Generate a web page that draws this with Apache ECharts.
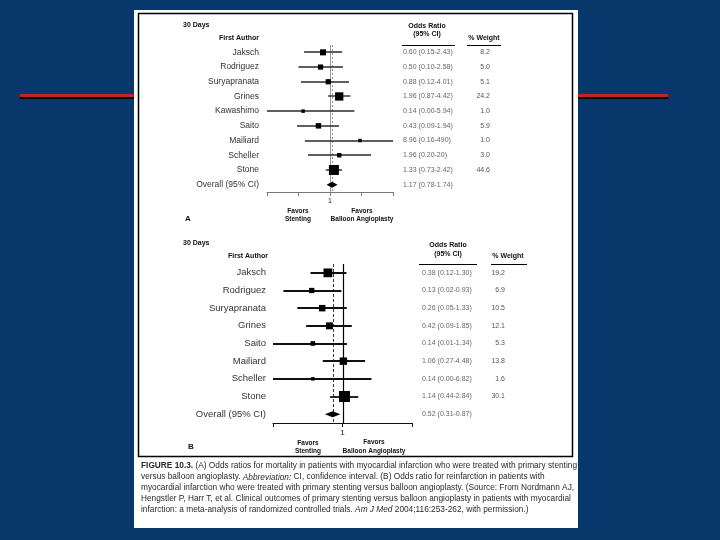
<!DOCTYPE html>
<html><head><meta charset="utf-8">
<script src="https://cdn.jsdelivr.net/npm/echarts@6/dist/echarts.min.js"></script>
<style>html,body{margin:0;padding:0;background:#08376b}#c{width:720px;height:540px}</style>
</head><body><div id="c"></div>
<script>
// ---------- Panel A: mortality at 30 days ----------
const authorsA = ['Jaksch','Rodriguez','Suryapranata','Grines','Kawashimo','Saito','Mailiard','Scheller','Stone','Overall (95% CI)'];
const orA      = [0.60, 0.50, 0.88, 1.96, 0.14, 0.43, 8.96, 1.96, 1.33, 1.17];
const loA      = [0.15, 0.10, 0.12, 0.87, 0.00, 0.09, 0.16, 0.20, 0.73, 0.78];
const hiA      = [2.43, 2.58, 4.01, 4.42, 5.94, 1.94, 490, 20, 2.42, 1.74];
const weightA  = [8.2, 5.0, 5.1, 24.2, 1.0, 5.9, 1.0, 3.0, 44.6, null];
const tickValuesA  = [0.01, 0.1, 1, 10, 100];
const labelValuesA = [1];

// ---------- Panel B: reinfarction at 30 days ----------
const authorsB = ['Jaksch','Rodriguez','Suryapranata','Grines','Saito','Mailiard','Scheller','Stone','Overall (95% CI)'];
const orB      = [0.38, 0.13, 0.26, 0.42, 0.14, 1.06, 0.14, 1.14, 0.52];
const loB      = [0.12, 0.02, 0.05, 0.09, 0.01, 0.27, 0.00, 0.44, 0.31];
const hiB      = [1.30, 0.93, 1.33, 1.85, 1.34, 4.48, 6.82, 2.84, 0.87];
const weightB  = [19.2, 6.9, 10.5, 12.1, 5.3, 13.8, 1.6, 30.1, null];
const tickValuesB  = [0.01, 1, 100];
const labelValuesB = [1];

const captionLines = [
  [['b','FIGURE 10.3.'],['n',' (A) Odds ratios for mortality in patients with myocardial infarction who were treated with primary stenting']],
  [['n','versus balloon angioplasty. '],['i','Abbreviation:'],['n',' CI, confidence interval. (B) Odds ratio for reinfarction in patients with']],
  [['n','myocardial infarction who were treated with primary stenting versus balloon angioplasty. (Source: From Nordmann AJ,']],
  [['n','Hengstler P, Harr T, et al. Clinical outcomes of primary stenting versus balloon angioplasty in patients with myocardial']],
  [['n','infarction: a meta-analysis of randomized controlled trials. '],['i','Am J Med'],['n',' 2004;116:253-262, with permission.)']]
];

// ---------- helpers ----------
const FONT = '"Liberation Sans", Arial, sans-serif';
const fmt = v => v >= 10 ? String(Math.round(v)) : v.toFixed(2);
const orText = (o, l, h) => o.map((v, i) => fmt(v) + ' (' + fmt(l[i]) + '-' + fmt(h[i]) + ')');
const wText = w => w.map(v => v == null ? '' : v.toFixed(1));
const orTextA = orText(orA, loA, hiA), orTextB = orText(orB, loB, hiB);
const wTextA = wText(weightA), wTextB = wText(weightB);

function forestItem(sizeFn, color, lw, xMin, xMax) {
  return function (params, api) {
    const y = api.value(0);
    const o = api.value(1);
    const l = Math.max(api.value(2), xMin), h = Math.min(api.value(3), xMax);
    const w = api.value(4);
    const pl = api.coord([l, y]), ph = api.coord([h, y]), pc = api.coord([o, y]);
    const s = sizeFn(w);
    return { type: 'group', children: [
      { type: 'line', shape: { x1: pl[0], y1: Math.round(pl[1]), x2: ph[0], y2: Math.round(ph[1]) }, style: { stroke: color, lineWidth: lw } },
      { type: 'rect', shape: { x: pc[0] - s / 2, y: pc[1] - s / 2, width: s, height: s }, style: { fill: '#000' } }
    ]};
  };
}
function diamondItem(params, api) {
  const y = api.value(0);
  const a = api.coord([api.value(2), y]), b = api.coord([api.value(1), y]), c = api.coord([api.value(3), y]);
  const h = 3;
  return { type: 'polygon', shape: { points: [[a[0], a[1]], [b[0], b[1] - h], [c[0], c[1]], [b[0], b[1] + h]] }, style: { fill: '#000' } };
}
function vlineItem(color, dash, lw) {
  return function (params, api) {
    const x = Math.round(api.coord([api.value(0), 0])[0]) + 0.5;
    const cs = params.coordSys;
    return { type: 'line', shape: { x1: x, y1: cs.y, x2: x, y2: cs.y + cs.height }, style: { stroke: color, lineWidth: lw, lineDash: dash } };
  };
}
function rows(authors, o, l, h, w) {
  return authors.slice(0, -1).map((a, i) => [i, o[i], l[i], h[i], w[i]]);
}
const lastA = authorsA.length - 1, lastB = authorsB.length - 1;
const sizeA = w => Math.max(3.5, 3.2 * Math.pow(w, 0.3));
const sizeB = w => Math.max(3.5, 2 * Math.sqrt(w));

// ---------- caption measurement ----------
const mctx = document.createElement('canvas').getContext('2d');
const CAP_SIZE = 9;
const capFont = t => (t === 'b' ? 'bold ' : t === 'i' ? 'italic ' : '') + CAP_SIZE + 'px ' + FONT;
function measureLine(segs) { return segs.reduce((s, [t, txt]) => { mctx.font = capFont(t); return s + mctx.measureText(txt).width; }, 0); }
const capScale = 436 / measureLine(captionLines[0]);
const capY = [466, 477, 488, 499, 509.5];
const captionGraphics = captionLines.map((segs, i) => ({
  type: 'text', x: 141, y: capY[i], scaleX: capScale, scaleY: 1,
  style: {
    text: segs.map(([t, txt]) => '{' + t + '|' + txt.replace(/[{}|]/g, '') + '}').join(''),
    rich: {
      n: { fontSize: CAP_SIZE, fontFamily: FONT, fill: '#2a2a2a' },
      b: { fontSize: CAP_SIZE, fontFamily: FONT, fill: '#2a2a2a', fontWeight: 'bold' },
      i: { fontSize: CAP_SIZE, fontFamily: FONT, fill: '#2a2a2a', fontStyle: 'italic' }
    },
    verticalAlign: 'middle', align: 'left'
  }
}));

function txt(x, y, text, opt) {
  return { type: 'text', x: x, y: y, style: Object.assign({ text: text, fontFamily: FONT, fontSize: 7, fill: '#111', verticalAlign: 'middle', align: 'left' }, opt || {}) };
}
function hline(x1, x2, y, color, lw) {
  return { type: 'line', shape: { x1: x1, y1: y, x2: x2, y2: y }, style: { stroke: color || '#000', lineWidth: lw || 1 } };
}
const boldS = (align, size) => ({ fontWeight: 'bold', align: align || 'left', fontSize: size || 7 });

const graphics = [
  // red rules
  { type: 'rect', shape: { x: 20, y: 97, width: 116, height: 2 }, style: { fill: '#000' }, z: -2 },
  { type: 'rect', shape: { x: 20, y: 94, width: 116, height: 3 }, style: { fill: '#c8202a' }, z: -2 },
  { type: 'rect', shape: { x: 577, y: 97, width: 91, height: 2 }, style: { fill: '#000' }, z: -2 },
  { type: 'rect', shape: { x: 577, y: 94, width: 91, height: 3 }, style: { fill: '#c8202a' }, z: -2 },
  // white page + figure frame
  { type: 'rect', shape: { x: 134, y: 10, width: 444, height: 518 }, style: { fill: '#fff' }, z: -1 },
  { type: 'rect', shape: { x: 138.5, y: 13.5, width: 434, height: 443 }, style: { fill: 'none', stroke: '#000', lineWidth: 1.5 }, z: -1 },
  // panel A headers
  txt(183, 25, '30 Days', boldS()),
  txt(259, 38, 'First Author', boldS('right')),
  txt(427, 26, 'Odds Ratio', boldS('center')),
  txt(427, 34.5, '(95% CI)', boldS('center')),
  hline(402, 455, 45.5, '#000', 1),
  txt(484, 38, '% Weight', boldS('center')),
  hline(467, 501, 45.5, '#000', 1),
  txt(298, 211, 'Favors', boldS('center', 6.5)),
  txt(298, 219, 'Stenting', boldS('center', 6.5)),
  txt(362, 211, 'Favors', boldS('center', 6.5)),
  txt(362, 219, 'Balloon Angioplasty', boldS('center', 6.5)),
  txt(185, 219, 'A', boldS('left', 8)),
  // panel B headers
  txt(183, 243, '30 Days', boldS()),
  txt(268, 256, 'First Author', boldS('right')),
  txt(448, 245, 'Odds Ratio', boldS('center')),
  txt(448, 254, '(95% CI)', boldS('center')),
  hline(419, 477, 264.5, '#000', 1),
  txt(508, 256, '% Weight', boldS('center')),
  hline(491, 527, 264.5, '#000', 1),
  txt(308, 443, 'Favors', boldS('center', 6.5)),
  txt(308, 451, 'Stenting', boldS('center', 6.5)),
  txt(374, 442, 'Favors', boldS('center', 6.5)),
  txt(374, 451, 'Balloon Angioplasty', boldS('center', 6.5)),
  txt(188, 447, 'B', boldS('left', 8))
].concat(captionGraphics);

function xAxisCfg(gi, ticks, labels, color, labelSize, margin) {
  return {
    gridIndex: gi, type: 'log', logBase: 10, min: 0.01, max: 100,
    axisLine: { show: true, lineStyle: { color: color, width: 1 } },
    axisTick: { show: true, inside: false, length: 4, customValues: ticks, lineStyle: { color: color } },
    axisLabel: { show: true, customValues: labels, fontSize: labelSize, fontFamily: FONT, color: '#222', margin: margin },
    splitLine: { show: false }, minorTick: { show: false }
  };
}
function yAxesCfg(gi, authors, nameSize, nameMargin, orT, wT, orOff, wOff, valSize) {
  const base = { gridIndex: gi, type: 'category', data: authors, inverse: true,
    axisLine: { show: false }, axisTick: { show: false }, splitLine: { show: false } };
  return [
    Object.assign({}, base, { position: 'left', axisLabel: { margin: nameMargin, fontSize: nameSize, fontFamily: FONT, color: '#333' } }),
    Object.assign({}, base, { position: 'right', offset: orOff, axisLabel: { margin: 0, align: 'left', fontSize: valSize, fontFamily: FONT, color: '#666', formatter: (v, i) => orT[i] } }),
    Object.assign({}, base, { position: 'right', offset: wOff, axisLabel: { margin: 0, align: 'right', fontSize: valSize, fontFamily: FONT, color: '#555', formatter: (v, i) => wT[i] } })
  ];
}

const option = {
  backgroundColor: '#08376b',
  animation: false,
  grid: [
    { left: 267, top: 45, width: 126, height: 147 },
    { left: 273, top: 264, width: 139, height: 159 }
  ],
  xAxis: [
    xAxisCfg(0, tickValuesA, labelValuesA, '#777', 7, 6),
    xAxisCfg(1, tickValuesB, labelValuesB, '#111', 8, 6)
  ],
  yAxis: yAxesCfg(0, authorsA, 8.5, 8, orTextA, wTextA, 10, 97, 7)
    .concat(yAxesCfg(1, authorsB, 9.5, 7, orTextB, wTextB, 10, 93, 7)),
  graphic: { elements: graphics },
  series: [
    { type: 'custom', xAxisIndex: 0, yAxisIndex: 0, renderItem: vlineItem('#999', null, 1), data: [[1]], encode: { x: 0 }, z: 1, silent: true },
    { type: 'custom', xAxisIndex: 0, yAxisIndex: 0, renderItem: vlineItem('#777', [2, 2], 0.8), data: [[orA[lastA]]], encode: { x: 0 }, z: 1, silent: true },
    { type: 'custom', xAxisIndex: 0, yAxisIndex: 0, renderItem: forestItem(sizeA, '#2a2a2a', 1.4, 0.01, 100),
      data: rows(authorsA, orA, loA, hiA, weightA), encode: { x: 1, y: 0 }, z: 2, silent: true },
    { type: 'custom', xAxisIndex: 0, yAxisIndex: 0, renderItem: diamondItem,
      data: [[lastA, orA[lastA], loA[lastA], hiA[lastA]]], encode: { x: 1, y: 0 }, z: 2, silent: true },

    { type: 'custom', xAxisIndex: 1, yAxisIndex: 3, renderItem: vlineItem('#000', null, 1.2), data: [[1]], encode: { x: 0 }, z: 1, silent: true },
    { type: 'custom', xAxisIndex: 1, yAxisIndex: 3, renderItem: vlineItem('#222', [3, 2], 0.9), data: [[orB[lastB]]], encode: { x: 0 }, z: 1, silent: true },
    { type: 'custom', xAxisIndex: 1, yAxisIndex: 3, renderItem: forestItem(sizeB, '#111', 1.8, 0.01, 100),
      data: rows(authorsB, orB, loB, hiB, weightB), encode: { x: 1, y: 0 }, z: 2, silent: true },
    { type: 'custom', xAxisIndex: 1, yAxisIndex: 3, renderItem: diamondItem,
      data: [[lastB, orB[lastB], loB[lastB], hiB[lastB]]], encode: { x: 1, y: 0 }, z: 2, silent: true }
  ]
};
const chart = echarts.init(document.getElementById('c'), null, { renderer: 'canvas', width: 720, height: 540 });
chart.setOption(option);
</script>
</body></html>
